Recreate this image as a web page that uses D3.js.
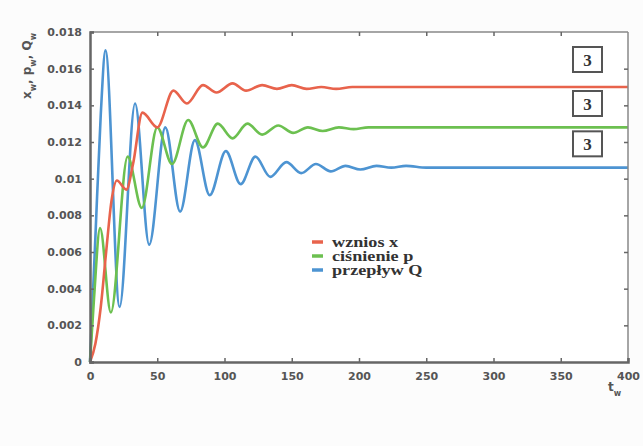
<!DOCTYPE html>
<html>
<head>
<meta charset="utf-8">
<script src="https://cdn.jsdelivr.net/npm/d3@7"></script>
<style>
  body { margin: 0; background: #fcfcfc; }
  svg { display: block; }
</style>
</head>
<body>
<div id="chart"></div>
<script>
// data (t, value pairs at extrema and a few in-between points)
const tRed = [0, 4, 8, 12, 16, 20, 27, 32, 39, 50, 62, 72, 84, 94, 106, 116, 128, 139, 150, 161, 172, 183, 195, 210, 400];
const vRed = [0, 0.0010, 0.0030, 0.0060, 0.0088, 0.0099, 0.0094, 0.0108, 0.0136, 0.0128, 0.0148, 0.0141, 0.0151, 0.0147, 0.0152, 0.0148, 0.0151, 0.0149, 0.0151, 0.0149, 0.0150, 0.0149, 0.0150, 0.0150, 0.0150];

const tGreen = [0, 3, 7.5, 15.5, 28, 38.5, 50, 61, 73, 84, 95, 106, 117, 128, 140, 151, 162, 173, 185, 196, 207, 220, 400];
const vGreen = [0, 0.0035, 0.0073, 0.0027, 0.0112, 0.0084, 0.0128, 0.0108, 0.0132, 0.0117, 0.0130, 0.0122, 0.0130, 0.0124, 0.0129, 0.0125, 0.0128, 0.0126, 0.0128, 0.0127, 0.0128, 0.0128, 0.0128];

const tBlue = [0, 4, 8, 11.5, 22, 33.5, 44, 56, 67, 78, 89, 101, 112, 123, 134, 146, 157, 168, 179, 190, 201, 213, 224, 235, 250, 400];
const vBlue = [0, 0.0068, 0.0135, 0.0170, 0.0030, 0.0141, 0.0064, 0.0128, 0.0082, 0.0121, 0.0091, 0.0115, 0.0097, 0.0112, 0.0101, 0.0109, 0.0103, 0.0108, 0.0104, 0.0107, 0.0105, 0.0107, 0.0106, 0.0107, 0.0106, 0.0106];

const seriesNames = ["wznios x", "ciśnienie p", "przepływ Q"];
const seriesColors = ["#e8634c", "#6cc050", "#4d94d2"];

const xTicks = [0, 50, 100, 150, 200, 250, 300, 350, 400];
const yTicks = [0, 0.002, 0.004, 0.006, 0.008, 0.01, 0.012, 0.014, 0.016, 0.018];
const yTickLabels = ["0", "0.002", "0.004", "0.006", "0.008", "0.01", "0.012", "0.014", "0.016", "0.018"];
const boxLabels = ["3", "3", "3"];
const boxValues = [0.0165, 0.0141, 0.0119];

const width = 643, height = 446;
const margin = { top: 32, left: 90, right: 15, bottom: 84 };
const plotW = width - margin.left - margin.right;
const plotH = height - margin.top - margin.bottom;

const svg = d3.select("#chart").append("svg")
  .attr("width", width)
  .attr("height", height);

const g = svg.append("g")
  .attr("transform", `translate(${margin.left},${margin.top})`);

const x = d3.scaleLinear().domain([0, 400]).range([0, plotW]);
const y = d3.scaleLinear().domain([0, 0.018]).range([plotH, 0]);

// plot background
g.append("rect")
  .attr("width", plotW)
  .attr("height", plotH)
  .attr("fill", "#fff");

// curves
const line = d3.line()
  .x(d => x(d[0]))
  .y(d => y(d[1]))
  .curve(d3.curveMonotoneX);

const series = [
  d3.zip(tRed, vRed),
  d3.zip(tGreen, vGreen),
  d3.zip(tBlue, vBlue)
];

// draw blue first so red stays on top like the original
[2, 1, 0].forEach(i => {
  g.append("path")
    .datum(series[i])
    .attr("d", line)
    .attr("fill", "none")
    .attr("stroke", seriesColors[i])
    .attr("stroke-width", 2.6)
    .attr("stroke-linejoin", "round");
});

// frame: top and right thin, left and bottom heavy
g.append("line").attr("x1", 0).attr("x2", plotW).attr("y1", 0).attr("y2", 0)
  .attr("stroke", "#888").attr("stroke-width", 1.5);
g.append("line").attr("x1", plotW).attr("x2", plotW).attr("y1", 0).attr("y2", plotH)
  .attr("stroke", "#888").attr("stroke-width", 1.5);

// axes with inward ticks
const tickFont = "'DejaVu Sans', sans-serif";

const xAxis = g.append("g")
  .attr("transform", `translate(0,${plotH})`)
  .call(d3.axisBottom(x).tickValues(xTicks).tickSize(-4).tickPadding(10));
const yAxis = g.append("g")
  .call(d3.axisLeft(y).tickValues(yTicks).tickSize(-4).tickPadding(8)
    .tickFormat((d, i) => yTickLabels[i]));

g.append("g")
  .call(d3.axisTop(x).tickValues(xTicks.slice(1, -1)).tickSize(-4).tickFormat(""))
  .call(a => a.select(".domain").remove())
  .selectAll("line").attr("stroke", "#666").attr("stroke-width", 1.5);
g.append("g")
  .attr("transform", `translate(${plotW},0)`)
  .call(d3.axisRight(y).tickValues(yTicks.slice(1, -1)).tickSize(-4).tickFormat(""))
  .call(a => a.select(".domain").remove())
  .selectAll("line").attr("stroke", "#666").attr("stroke-width", 1.5);

[xAxis, yAxis].forEach(a => {
  a.select(".domain").attr("stroke", "#666").attr("stroke-width", 2.5);
  a.selectAll(".tick line").attr("stroke", "#666").attr("stroke-width", 1.5);
  a.selectAll(".tick text")
    .style("font-family", tickFont)
    .style("font-size", "11px")
    .style("font-weight", "bold")
    .attr("fill", "#555");
});

// boxed labels on the right
const boxW = 29, boxH = 25;
const boxes = g.selectAll(".box")
  .data(boxValues)
  .join("g")
  .attr("class", "box")
  .attr("transform", d => `translate(${plotW - 55},${y(d) - boxH / 2})`);

boxes.append("rect")
  .attr("width", boxW)
  .attr("height", boxH)
  .attr("fill", "#fff")
  .attr("stroke", "#555")
  .attr("stroke-width", 2);

boxes.append("text")
  .attr("x", boxW / 2)
  .attr("y", boxH / 2 + 6)
  .attr("text-anchor", "middle")
  .style("font-family", "'Liberation Serif', serif")
  .style("font-size", "17px")
  .style("font-weight", "bold")
  .attr("fill", "#333")
  .text((d, i) => boxLabels[i]);

// legend
const legend = svg.append("g")
  .attr("transform", "translate(312,242)");

const legendItems = legend.selectAll(".legend-item")
  .data(seriesNames)
  .join("g")
  .attr("class", "legend-item")
  .attr("transform", (d, i) => `translate(0,${i * 14})`);

legendItems.append("line")
  .attr("x1", 0).attr("x2", 11)
  .attr("stroke", (d, i) => seriesColors[i])
  .attr("stroke-width", 3.5);

legendItems.append("text")
  .attr("transform", "translate(20,5) scale(1.3,1)")
  .style("font-family", "'Liberation Serif', serif")
  .style("font-size", "14px")
  .style("font-weight", "bold")
  .attr("fill", "#333")
  .text(d => d);

// axis titles
const yTitle = svg.append("text")
  .attr("transform", "translate(31,66) rotate(-90)")
  .attr("text-anchor", "middle")
  .style("font-family", tickFont)
  .style("font-size", "12px")
  .style("font-weight", "bold")
  .attr("fill", "#555");
[["x", "w"], ["p", "w"], ["Q", "w"]].forEach((p, i) => {
  yTitle.append("tspan").text(p[0]);
  yTitle.append("tspan").attr("baseline-shift", "sub").style("font-size", "8px").text(p[1]);
  if (i < 2) yTitle.append("tspan").text(", ");
});

const xTitle = svg.append("text")
  .attr("x", 608)
  .attr("y", 391)
  .style("font-family", tickFont)
  .style("font-size", "12px")
  .style("font-weight", "bold")
  .attr("fill", "#555");
xTitle.append("tspan").text("t");
xTitle.append("tspan").attr("baseline-shift", "sub").style("font-size", "8px").text("w");
</script>
</body>
</html>
